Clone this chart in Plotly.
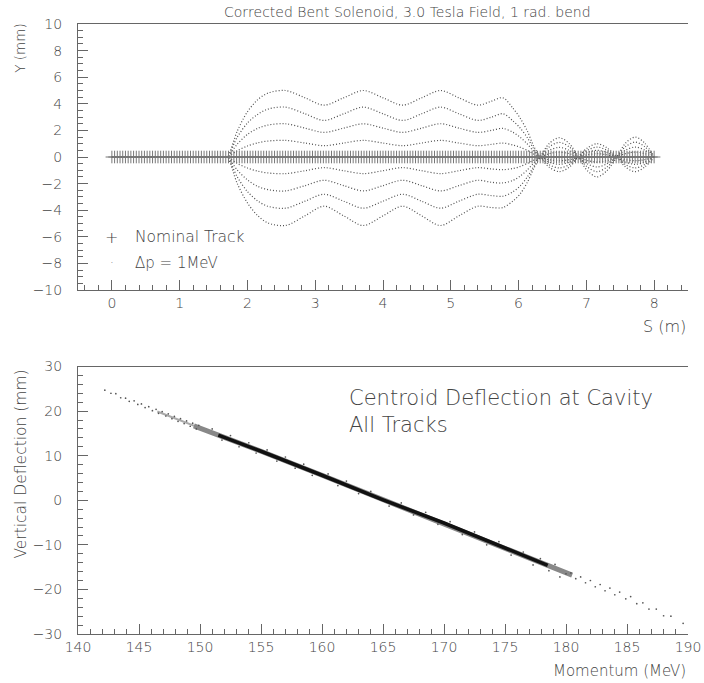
import plotly.graph_objects as go

TITLE = "Corrected Bent Solenoid, 3.0 Tesla Field, 1 rad. bend"

# ---------------- top panel: tracks vs path length S (m) ----------------
nominal_s = [
    0.00, 0.04, 0.08, 0.12, 0.16, 0.20, 0.24, 0.28, 0.32, 0.36, 0.40, 0.44, 0.48, 0.52, 0.56, 0.60, 0.64, 0.68, 0.72, 0.76, 0.80, 0.84, 0.88, 0.92, 0.96,
    1.00, 1.04, 1.08, 1.12, 1.16, 1.20, 1.24, 1.28, 1.32, 1.36, 1.40, 1.44, 1.48, 1.52, 1.56, 1.60, 1.64, 1.68, 1.72, 1.76, 1.80, 1.84, 1.88, 1.92, 1.96,
    2.00, 2.04, 2.08, 2.12, 2.16, 2.20, 2.24, 2.28, 2.32, 2.36, 2.40, 2.44, 2.48, 2.52, 2.56, 2.60, 2.64, 2.68, 2.72, 2.76, 2.80, 2.84, 2.88, 2.92, 2.96,
    3.00, 3.04, 3.08, 3.12, 3.16, 3.20, 3.24, 3.28, 3.32, 3.36, 3.40, 3.44, 3.48, 3.52, 3.56, 3.60, 3.64, 3.68, 3.72, 3.76, 3.80, 3.84, 3.88, 3.92, 3.96,
    4.00, 4.04, 4.08, 4.12, 4.16, 4.20, 4.24, 4.28, 4.32, 4.36, 4.40, 4.44, 4.48, 4.52, 4.56, 4.60, 4.64, 4.68, 4.72, 4.76, 4.80, 4.84, 4.88, 4.92, 4.96,
    5.00, 5.04, 5.08, 5.12, 5.16, 5.20, 5.24, 5.28, 5.32, 5.36, 5.40, 5.44, 5.48, 5.52, 5.56, 5.60, 5.64, 5.68, 5.72, 5.76, 5.80, 5.84, 5.88, 5.92, 5.96,
    6.00, 6.04, 6.08, 6.12, 6.16, 6.20, 6.24, 6.28, 6.32, 6.36, 6.40, 6.44, 6.48, 6.52, 6.56, 6.60, 6.64, 6.68, 6.72, 6.76, 6.80, 6.84, 6.88, 6.92, 6.96,
    7.00, 7.04, 7.08, 7.12, 7.16, 7.20, 7.24, 7.28, 7.32, 7.36, 7.40, 7.44, 7.48, 7.52, 7.56, 7.60, 7.64, 7.68, 7.72, 7.76, 7.80, 7.84, 7.88, 7.92, 7.96,
    8.00,
]
nominal_y = [0.0] * len(nominal_s)

s_knots = [0.00, 1.65, 1.70, 1.85, 2.00, 2.15, 2.30, 2.56, 2.85, 3.13, 3.42, 3.71, 4.00, 4.29,
           4.57, 4.85, 5.12, 5.40, 5.60, 5.77, 5.92, 6.02, 6.13, 6.22, 6.32, 6.45, 6.60, 6.75,
           6.88, 7.02, 7.16, 7.30, 7.45, 7.58, 7.72, 7.86, 8.00]

dp_plus4 = [0, 0, 0, 1.95, 3.4, 4.3, 4.8, 5.0, 4.45, 3.9, 4.45, 5.0, 4.45, 3.9, 4.45, 5.0, 4.45, 3.9,
            4.2, 4.45, 3.65, 2.95, 1.95, 0.85, 0, -0.76, -1.1, -0.76, 0, 0.7, 1.0, 0.7, 0, -0.76, -1.1, -0.76, 0]
dp_plus3 = [0, 0, 0, 1.5, 2.55, 3.2, 3.6, 3.75, 3.25, 2.75, 3.25, 3.75, 3.25, 2.75, 3.25, 3.75, 3.25, 2.75,
            3.0, 3.25, 2.7, 2.2, 1.45, 0.65, 0, -0.57, -0.82, -0.57, 0, 0.52, 0.75, 0.52, 0, -0.57, -0.82, -0.57, 0]
dp_plus2 = [0, 0, 0, 0.97, 1.7, 2.15, 2.4, 2.5, 2.17, 1.85, 2.17, 2.5, 2.17, 1.85, 2.17, 2.5, 2.17, 1.85,
            2.0, 2.15, 1.85, 1.5, 0.98, 0.45, 0, -0.38, -0.55, -0.38, 0, 0.35, 0.5, 0.35, 0, -0.38, -0.55, -0.38, 0]
dp_plus1 = [0, 0, 0, 0.47, 0.83, 1.06, 1.2, 1.25, 1.05, 0.85, 1.05, 1.25, 1.05, 0.85, 1.05, 1.25, 1.05, 0.85,
            0.95, 1.05, 0.9, 0.74, 0.5, 0.23, 0, -0.2, -0.28, -0.2, 0, 0.17, 0.25, 0.17, 0, -0.2, -0.28, -0.2, 0]
dp_minus1 = [0, 0, 0, -0.48, -0.83, -1.06, -1.2, -1.25, -1.03, -0.8, -1.03, -1.25, -1.03, -0.8, -1.03, -1.25, -1.03, -0.8,
             -0.9, -0.95, -0.86, -0.72, -0.48, -0.24, 0, 0.25, 0.36, 0.25, 0, -0.27, -0.38, -0.27, 0, 0.26, 0.37, 0.26, 0]
dp_minus2 = [0, 0, 0, -0.98, -1.72, -2.2, -2.45, -2.55, -2.15, -1.75, -2.15, -2.55, -2.15, -1.75, -2.15, -2.55, -2.15, -1.75,
             -1.9, -1.95, -1.75, -1.45, -0.97, -0.48, 0, 0.5, 0.72, 0.5, 0, -0.52, -0.75, -0.52, 0, 0.52, 0.75, 0.52, 0]
dp_minus3 = [0, 0, 0, -1.5, -2.6, -3.3, -3.7, -3.85, -3.32, -2.8, -3.32, -3.85, -3.32, -2.8, -3.32, -3.85, -3.32, -2.8,
             -2.9, -2.95, -2.6, -2.2, -1.5, -0.75, 0, 0.75, 1.1, 0.75, 0, -0.77, -1.1, -0.77, 0, 0.78, 1.12, 0.78, 0]
dp_minus4 = [0, 0, 0, -2.0, -3.45, -4.4, -4.95, -5.15, -4.42, -3.7, -4.42, -5.15, -4.42, -3.7, -4.42, -5.15, -4.42, -3.7,
             -3.8, -3.8, -3.3, -2.8, -1.9, -0.9, 0, 1.0, 1.45, 1.0, 0, -1.05, -1.5, -1.05, 0, 1.05, 1.5, 1.05, 0]

# ---------------- bottom panel: centroid deflection vs momentum ----------------
band_p = [149.5, 150, 155, 160, 165, 170, 175, 180, 180.5]
band_y = [16.7, 16.2, 11.0, 5.6, 0.1, -5.1, -10.8, -16.3, -16.8]
core_p = [151.5, 155, 160, 165, 170, 175, 178.5]
core_y = [14.6, 11.0, 5.6, 0.1, -5.1, -10.8, -14.6]
thin_p = [146.5, 149.5, 151.5]
thin_y = [19.9, 16.7, 14.6]

track_p = [142.2, 142.7, 143.1, 143.5, 143.9, 144.2, 144.6, 144.9, 145.2, 145.5, 145.8, 146.1, 146.4,
           146.6, 146.9, 147.2, 147.4, 147.7, 147.9, 148.2, 148.4, 148.7, 148.9, 149.2, 149.4, 149.7, 149.9,
           151.0, 151.8, 152.5, 153.2, 154.0, 154.6, 155.5, 156.3, 157.0, 157.8, 158.5, 159.2, 160.5,
           161.3, 162.0, 163.0, 164.0, 165.5, 166.5, 167.5, 168.5, 169.5, 170.5, 171.5, 172.5, 173.5,
           174.5, 175.5, 176.5, 177.3, 177.9, 178.6, 179.1, 179.5,
           180.0, 180.4, 180.8, 181.2, 181.6, 182.0, 182.4, 182.8, 183.2, 183.6, 184.0, 184.4, 184.9,
           185.3, 185.8, 186.3, 186.8, 187.4, 188.0, 188.6, 189.6]
track_y = [24.7, 24.0, 23.9, 23.0, 22.9, 22.2, 22.3, 21.5, 21.6, 20.8, 21.0, 20.1, 20.4,
           19.5, 19.9, 18.9, 19.4, 18.3, 18.8, 17.7, 18.3, 17.2, 17.8, 16.6, 17.3, 16.0, 16.8,
           16.0, 13.5, 14.5, 12.0, 12.9, 10.6, 11.3, 8.8, 9.7, 7.2, 8.1, 5.6, 5.9,
           3.3, 4.3, 1.5, 2.0, -1.3, -0.6, -3.3, -2.7, -5.4, -4.8, -7.7, -7.1, -10.0,
           -9.3, -12.3, -11.6, -14.5, -13.1, -15.8, -14.4, -17.2,
           -16.5, -16.3, -17.6, -17.2, -18.5, -18.0, -19.4, -18.9, -20.3, -19.7, -21.2, -20.6, -22.1,
           -21.6, -23.2, -23.0, -24.4, -24.4, -25.9, -26.0, -27.6]

FONT = "'DejaVu Sans', Roboto, sans-serif"
WT = 200
TXT = "#444444"
AX = "#666666"

fig = go.Figure()

curves = [dp_plus4, dp_plus3, dp_plus2, dp_plus1, dp_minus1, dp_minus2, dp_minus3, dp_minus4]
for c in curves:
    fig.add_trace(go.Scatter(x=s_knots, y=c, mode="lines", xaxis="x", yaxis="y",
                             line=dict(color="#505050", width=1.2, dash="1px,2px", shape="spline", smoothing=0.9),
                             showlegend=False, hoverinfo="skip"))

fig.add_trace(go.Scatter(x=nominal_s, y=nominal_y, mode="lines+markers", xaxis="x", yaxis="y",
                         line=dict(color="#333333", width=1),
                         marker=dict(symbol="cross-thin", size=9, line=dict(color="#777777", width=1)),
                         showlegend=False, hoverinfo="skip"))

fig.add_trace(go.Scatter(x=thin_p, y=thin_y, mode="lines", xaxis="x2", yaxis="y2",
                         line=dict(color="#aaaaaa", width=2), showlegend=False, hoverinfo="skip"))
fig.add_trace(go.Scatter(x=band_p, y=band_y, mode="lines", xaxis="x2", yaxis="y2",
                         line=dict(color="#888888", width=5), showlegend=False, hoverinfo="skip"))
fig.add_trace(go.Scatter(x=core_p, y=core_y, mode="lines", xaxis="x2", yaxis="y2",
                         line=dict(color="#111111", width=3.6), showlegend=False, hoverinfo="skip"))
fig.add_trace(go.Scatter(x=track_p, y=track_y, mode="markers", xaxis="x2", yaxis="y2",
                         marker=dict(color="#555555", size=1.7), showlegend=False, hoverinfo="skip"))

axis_common = dict(showgrid=False, zeroline=False, showline=True, linecolor=AX, linewidth=1,
                   ticks="inside", tickcolor=AX, tickwidth=1, ticklen=10, automargin=False,
                   tickfont=dict(family=FONT, size=14, color=TXT, weight=WT))

fig.update_layout(
    width=704, height=683,
    margin=dict(l=78, r=16, t=24, b=49),
    paper_bgcolor="white", plot_bgcolor="white",
    xaxis=dict(domain=[0, 1], anchor="y", range=[-0.5, 8.5], tick0=0, dtick=1, mirror=True,
               ticklabelstandoff=0,
               minor=dict(dtick=0.2, tick0=0, ticks="inside", ticklen=5, tickcolor=AX, showgrid=False),
               **axis_common),
    yaxis=dict(domain=[0.5639, 1.0], anchor="x", range=[-10, 10], tick0=0, dtick=2,
               ticklabelstandoff=12,
               minor=dict(dtick=0.5, tick0=0, ticks="inside", ticklen=5, tickcolor=AX, showgrid=False),
               **axis_common),
    xaxis2=dict(domain=[0, 1], anchor="y2", range=[140, 190], tick0=140, dtick=5, mirror=True,
                ticklabelstandoff=0,
                minor=dict(dtick=1, tick0=140, ticks="inside", ticklen=5, tickcolor=AX, showgrid=False),
                **axis_common),
    yaxis2=dict(domain=[0, 0.4385], anchor="x2", range=[-30, 30], tick0=0, dtick=10,
                ticklabelstandoff=12,
                minor=dict(dtick=2, tick0=0, ticks="inside", ticklen=5, tickcolor=AX, showgrid=False),
                **axis_common),
)

def note(text, x, y, size=15, xanchor="left", yanchor="middle", angle=0):
    fig.add_annotation(text=text, x=x, y=y, xref="paper", yref="paper", showarrow=False,
                       xanchor=xanchor, yanchor=yanchor, textangle=angle, align="left",
                       font=dict(family=FONT, size=size, color=TXT, weight=WT))

note(TITLE, 0.54, 1.0197, size=14, xanchor="center")
note("Y (mm)", -0.095, 1.003, size=13.5, xanchor="center", yanchor="top", angle=-90)
note("S (m)", 1.0, 0.5038, size=16, xanchor="right")
note("Vertical Deflection (mm)", -0.095, 0.436, size=15.5, xanchor="center", yanchor="top", angle=-90)
note("Momentum (MeV)", 1.0, -0.0602, size=15, xanchor="right")
note("+", 0.0552, 0.6503, size=16, xanchor="center")
note("Nominal Track", 0.0907, 0.6503, size=15.5)
note("·", 0.0552, 0.6077, size=12, xanchor="center")
note("Δp = 1MeV", 0.0907, 0.6077, size=15)
note("Centroid Deflection at Cavity<br>All Tracks", 0.441, 0.3655, size=21)

fig.write_html("out.html", config={"displayModeBar": False},
               post_script="document.body.style.margin='0px';")
